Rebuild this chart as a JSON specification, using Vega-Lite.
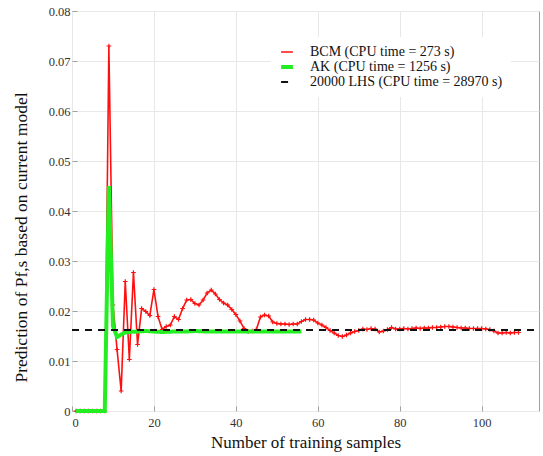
{
  "$schema": "https://vega.github.io/schema/vega-lite/v6.json",
  "autosize": {"type": "none"},
  "width": 467,
  "height": 400,
  "padding": {"left": 72, "top": 11, "right": 4, "bottom": 45},
  "background": "white",
  "config": {
    "font": "Liberation Serif",
    "view": {"stroke": "#a0a0a0", "strokeWidth": 1},
    "axis": {
      "labelFont": "Liberation Serif",
      "titleFont": "Liberation Serif",
      "labelColor": "#333333",
      "titleColor": "#111111",
      "titleFontWeight": "normal",
      "labelFontSize": 12.5,
      "titleFontSize": 17,
      "gridColor": "#e8e8e8",
      "gridWidth": 1,
      "domain": false,
      "tickColor": "#a0a0a0",
      "tickSize": -5,
      "labelPadding": 7
    },
    "legend": {
      "labelFont": "Liberation Serif",
      "labelFontSize": 14,
      "labelColor": "#111111",
      "labelLimit": 400
    }
  },
  "datasets": {
    "series": [
      {"series": "BCM (CPU time = 273 s)", "x": 1, "y": 0},
      {"series": "BCM (CPU time = 273 s)", "x": 2, "y": 0},
      {"series": "BCM (CPU time = 273 s)", "x": 3, "y": 0},
      {"series": "BCM (CPU time = 273 s)", "x": 4, "y": 0},
      {"series": "BCM (CPU time = 273 s)", "x": 5, "y": 0},
      {"series": "BCM (CPU time = 273 s)", "x": 6, "y": 0},
      {"series": "BCM (CPU time = 273 s)", "x": 7, "y": 0},
      {"series": "BCM (CPU time = 273 s)", "x": 8, "y": 0},
      {"series": "BCM (CPU time = 273 s)", "x": 9, "y": 0.073},
      {"series": "BCM (CPU time = 273 s)", "x": 10, "y": 0.0212},
      {"series": "BCM (CPU time = 273 s)", "x": 11, "y": 0.0123},
      {"series": "BCM (CPU time = 273 s)", "x": 12, "y": 0.004},
      {"series": "BCM (CPU time = 273 s)", "x": 13, "y": 0.0259},
      {"series": "BCM (CPU time = 273 s)", "x": 14, "y": 0.0103},
      {"series": "BCM (CPU time = 273 s)", "x": 15, "y": 0.0277},
      {"series": "BCM (CPU time = 273 s)", "x": 16, "y": 0.0133},
      {"series": "BCM (CPU time = 273 s)", "x": 17, "y": 0.0205},
      {"series": "BCM (CPU time = 273 s)", "x": 18, "y": 0.0199},
      {"series": "BCM (CPU time = 273 s)", "x": 19, "y": 0.0191},
      {"series": "BCM (CPU time = 273 s)", "x": 20, "y": 0.0243},
      {"series": "BCM (CPU time = 273 s)", "x": 21, "y": 0.0189},
      {"series": "BCM (CPU time = 273 s)", "x": 22, "y": 0.0163},
      {"series": "BCM (CPU time = 273 s)", "x": 23, "y": 0.0169},
      {"series": "BCM (CPU time = 273 s)", "x": 24, "y": 0.0172},
      {"series": "BCM (CPU time = 273 s)", "x": 25, "y": 0.0189},
      {"series": "BCM (CPU time = 273 s)", "x": 26, "y": 0.0183},
      {"series": "BCM (CPU time = 273 s)", "x": 27, "y": 0.0205},
      {"series": "BCM (CPU time = 273 s)", "x": 28, "y": 0.0222},
      {"series": "BCM (CPU time = 273 s)", "x": 29, "y": 0.0223},
      {"series": "BCM (CPU time = 273 s)", "x": 30, "y": 0.0215},
      {"series": "BCM (CPU time = 273 s)", "x": 31, "y": 0.0212},
      {"series": "BCM (CPU time = 273 s)", "x": 32, "y": 0.0222},
      {"series": "BCM (CPU time = 273 s)", "x": 33, "y": 0.0236},
      {"series": "BCM (CPU time = 273 s)", "x": 34, "y": 0.0242},
      {"series": "BCM (CPU time = 273 s)", "x": 35, "y": 0.0234},
      {"series": "BCM (CPU time = 273 s)", "x": 36, "y": 0.0223},
      {"series": "BCM (CPU time = 273 s)", "x": 37, "y": 0.0216},
      {"series": "BCM (CPU time = 273 s)", "x": 38, "y": 0.0212},
      {"series": "BCM (CPU time = 273 s)", "x": 39, "y": 0.0203},
      {"series": "BCM (CPU time = 273 s)", "x": 40, "y": 0.0193},
      {"series": "BCM (CPU time = 273 s)", "x": 41, "y": 0.018},
      {"series": "BCM (CPU time = 273 s)", "x": 42, "y": 0.0165},
      {"series": "BCM (CPU time = 273 s)", "x": 43, "y": 0.0159},
      {"series": "BCM (CPU time = 273 s)", "x": 44, "y": 0.016},
      {"series": "BCM (CPU time = 273 s)", "x": 45, "y": 0.0163},
      {"series": "BCM (CPU time = 273 s)", "x": 46, "y": 0.0188},
      {"series": "BCM (CPU time = 273 s)", "x": 47, "y": 0.0192},
      {"series": "BCM (CPU time = 273 s)", "x": 48, "y": 0.019},
      {"series": "BCM (CPU time = 273 s)", "x": 49, "y": 0.0178},
      {"series": "BCM (CPU time = 273 s)", "x": 50, "y": 0.0175},
      {"series": "BCM (CPU time = 273 s)", "x": 51, "y": 0.0174},
      {"series": "BCM (CPU time = 273 s)", "x": 52, "y": 0.0174},
      {"series": "BCM (CPU time = 273 s)", "x": 53, "y": 0.0173},
      {"series": "BCM (CPU time = 273 s)", "x": 54, "y": 0.0174},
      {"series": "BCM (CPU time = 273 s)", "x": 55, "y": 0.0174},
      {"series": "BCM (CPU time = 273 s)", "x": 56, "y": 0.0179},
      {"series": "BCM (CPU time = 273 s)", "x": 57, "y": 0.0183},
      {"series": "BCM (CPU time = 273 s)", "x": 58, "y": 0.0183},
      {"series": "BCM (CPU time = 273 s)", "x": 59, "y": 0.0182},
      {"series": "BCM (CPU time = 273 s)", "x": 60, "y": 0.0176},
      {"series": "BCM (CPU time = 273 s)", "x": 61, "y": 0.0172},
      {"series": "BCM (CPU time = 273 s)", "x": 62, "y": 0.0167},
      {"series": "BCM (CPU time = 273 s)", "x": 63, "y": 0.0161},
      {"series": "BCM (CPU time = 273 s)", "x": 64, "y": 0.0156},
      {"series": "BCM (CPU time = 273 s)", "x": 65, "y": 0.0151},
      {"series": "BCM (CPU time = 273 s)", "x": 66, "y": 0.0149},
      {"series": "BCM (CPU time = 273 s)", "x": 67, "y": 0.0152},
      {"series": "BCM (CPU time = 273 s)", "x": 68, "y": 0.0156},
      {"series": "BCM (CPU time = 273 s)", "x": 69, "y": 0.0159},
      {"series": "BCM (CPU time = 273 s)", "x": 70, "y": 0.0161},
      {"series": "BCM (CPU time = 273 s)", "x": 71, "y": 0.0164},
      {"series": "BCM (CPU time = 273 s)", "x": 72, "y": 0.0163},
      {"series": "BCM (CPU time = 273 s)", "x": 73, "y": 0.0165},
      {"series": "BCM (CPU time = 273 s)", "x": 74, "y": 0.0164},
      {"series": "BCM (CPU time = 273 s)", "x": 75, "y": 0.0158},
      {"series": "BCM (CPU time = 273 s)", "x": 76, "y": 0.016},
      {"series": "BCM (CPU time = 273 s)", "x": 77, "y": 0.0163},
      {"series": "BCM (CPU time = 273 s)", "x": 78, "y": 0.0167},
      {"series": "BCM (CPU time = 273 s)", "x": 79, "y": 0.0164},
      {"series": "BCM (CPU time = 273 s)", "x": 80, "y": 0.0164},
      {"series": "BCM (CPU time = 273 s)", "x": 81, "y": 0.0165},
      {"series": "BCM (CPU time = 273 s)", "x": 82, "y": 0.0164},
      {"series": "BCM (CPU time = 273 s)", "x": 83, "y": 0.0165},
      {"series": "BCM (CPU time = 273 s)", "x": 84, "y": 0.0166},
      {"series": "BCM (CPU time = 273 s)", "x": 85, "y": 0.0165},
      {"series": "BCM (CPU time = 273 s)", "x": 86, "y": 0.0166},
      {"series": "BCM (CPU time = 273 s)", "x": 87, "y": 0.0166},
      {"series": "BCM (CPU time = 273 s)", "x": 88, "y": 0.0167},
      {"series": "BCM (CPU time = 273 s)", "x": 89, "y": 0.0167},
      {"series": "BCM (CPU time = 273 s)", "x": 90, "y": 0.0168},
      {"series": "BCM (CPU time = 273 s)", "x": 91, "y": 0.0169},
      {"series": "BCM (CPU time = 273 s)", "x": 92, "y": 0.0169},
      {"series": "BCM (CPU time = 273 s)", "x": 93, "y": 0.0168},
      {"series": "BCM (CPU time = 273 s)", "x": 94, "y": 0.0167},
      {"series": "BCM (CPU time = 273 s)", "x": 95, "y": 0.0166},
      {"series": "BCM (CPU time = 273 s)", "x": 96, "y": 0.0166},
      {"series": "BCM (CPU time = 273 s)", "x": 97, "y": 0.0165},
      {"series": "BCM (CPU time = 273 s)", "x": 98, "y": 0.0165},
      {"series": "BCM (CPU time = 273 s)", "x": 99, "y": 0.0165},
      {"series": "BCM (CPU time = 273 s)", "x": 100, "y": 0.0165},
      {"series": "BCM (CPU time = 273 s)", "x": 101, "y": 0.0164},
      {"series": "BCM (CPU time = 273 s)", "x": 102, "y": 0.0163},
      {"series": "BCM (CPU time = 273 s)", "x": 103, "y": 0.016},
      {"series": "BCM (CPU time = 273 s)", "x": 104, "y": 0.0156},
      {"series": "BCM (CPU time = 273 s)", "x": 105, "y": 0.0156},
      {"series": "BCM (CPU time = 273 s)", "x": 106, "y": 0.0157},
      {"series": "BCM (CPU time = 273 s)", "x": 107, "y": 0.0156},
      {"series": "BCM (CPU time = 273 s)", "x": 108, "y": 0.0157},
      {"series": "BCM (CPU time = 273 s)", "x": 109, "y": 0.0157},
      {"series": "AK (CPU time = 1256 s)", "x": 1, "y": 0},
      {"series": "AK (CPU time = 1256 s)", "x": 2, "y": 0},
      {"series": "AK (CPU time = 1256 s)", "x": 3, "y": 0},
      {"series": "AK (CPU time = 1256 s)", "x": 4, "y": 0},
      {"series": "AK (CPU time = 1256 s)", "x": 5, "y": 0},
      {"series": "AK (CPU time = 1256 s)", "x": 6, "y": 0},
      {"series": "AK (CPU time = 1256 s)", "x": 7, "y": 0},
      {"series": "AK (CPU time = 1256 s)", "x": 8, "y": 0},
      {"series": "AK (CPU time = 1256 s)", "x": 9, "y": 0.045},
      {"series": "AK (CPU time = 1256 s)", "x": 10, "y": 0.017},
      {"series": "AK (CPU time = 1256 s)", "x": 11, "y": 0.0148},
      {"series": "AK (CPU time = 1256 s)", "x": 12, "y": 0.0153},
      {"series": "AK (CPU time = 1256 s)", "x": 13, "y": 0.0157},
      {"series": "AK (CPU time = 1256 s)", "x": 14, "y": 0.0158},
      {"series": "AK (CPU time = 1256 s)", "x": 16, "y": 0.0159},
      {"series": "AK (CPU time = 1256 s)", "x": 18, "y": 0.016},
      {"series": "AK (CPU time = 1256 s)", "x": 20, "y": 0.0159},
      {"series": "AK (CPU time = 1256 s)", "x": 22, "y": 0.0158},
      {"series": "AK (CPU time = 1256 s)", "x": 25, "y": 0.0159},
      {"series": "AK (CPU time = 1256 s)", "x": 28, "y": 0.0159},
      {"series": "AK (CPU time = 1256 s)", "x": 30, "y": 0.016},
      {"series": "AK (CPU time = 1256 s)", "x": 33, "y": 0.0159},
      {"series": "AK (CPU time = 1256 s)", "x": 36, "y": 0.0159},
      {"series": "AK (CPU time = 1256 s)", "x": 40, "y": 0.0159},
      {"series": "AK (CPU time = 1256 s)", "x": 44, "y": 0.0159},
      {"series": "AK (CPU time = 1256 s)", "x": 48, "y": 0.0159},
      {"series": "AK (CPU time = 1256 s)", "x": 52, "y": 0.0159},
      {"series": "AK (CPU time = 1256 s)", "x": 56, "y": 0.0159},
      {"series": "20000 LHS (CPU time = 28970 s)", "x": 0, "y": 0.0162},
      {"series": "20000 LHS (CPU time = 28970 s)", "x": 114, "y": 0.0162}
    ]
  },
  "data": {"name": "series"},
  "encoding": {
    "x": {
      "field": "x",
      "type": "quantitative",
      "scale": {"domain": [0, 114], "nice": false},
      "axis": {"values": [0, 20, 40, 60, 80, 100], "title": "Number of training samples", "titlePadding": 6, "labelPadding": 10}
    },
    "y": {
      "field": "y",
      "type": "quantitative",
      "scale": {"domain": [0, 0.08], "nice": false},
      "axis": {"values": [0, 0.01, 0.02, 0.03, 0.04, 0.05, 0.06, 0.07, 0.08], "format": ".2~f", "title": "Prediction of Pf,s based on current model", "titleFontSize": 17.5, "titlePadding": 18, "titleY": 226}
    },
    "color": {
      "field": "series",
      "type": "nominal",
      "scale": {
        "domain": ["BCM (CPU time = 273 s)", "AK (CPU time = 1256 s)", "20000 LHS (CPU time = 28970 s)"],
        "range": ["#ff1010", "#22ee22", "#111111"]
      },
      "legend": {
        "title": null,
        "orient": "none",
        "legendX": 199,
        "legendY": 26,
        "symbolType": "stroke",
        "symbolSize": 140,
        "fillColor": "white",
        "padding": 8,
        "rowPadding": 0,
        "labelOffset": 15
      }
    },
    "strokeDash": {
      "field": "series",
      "type": "nominal",
      "scale": {
        "domain": ["BCM (CPU time = 273 s)", "AK (CPU time = 1256 s)", "20000 LHS (CPU time = 28970 s)"],
        "range": [[1, 0], [1, 0], [7, 6]]
      },
      "legend": {"title": null}
    },
    "strokeWidth": {
      "field": "series",
      "type": "nominal",
      "scale": {
        "type": "ordinal",
        "domain": ["BCM (CPU time = 273 s)", "AK (CPU time = 1256 s)", "20000 LHS (CPU time = 28970 s)"],
        "range": [1.6, 4, 2]
      },
      "legend": {"title": null}
    }
  },
  "layer": [
    {
      "transform": [{"filter": "datum.series === 'BCM (CPU time = 273 s)'"}],
      "mark": {"type": "line"}
    },
    {
      "transform": [{"filter": "datum.series === 'BCM (CPU time = 273 s)'"}],
      "mark": {"type": "point", "shape": "M-1,0L1,0M0,-1L0,1", "filled": false, "size": 22, "strokeWidth": 1.2, "color": "#ff1010", "opacity": 1},
      "encoding": {"color": {"value": "#ff1010"}, "strokeDash": {"value": [1, 0]}, "strokeWidth": {"value": 1.2}}
    },
    {
      "transform": [{"filter": "datum.series === 'AK (CPU time = 1256 s)'"}],
      "mark": {"type": "line"}
    },
    {
      "transform": [{"filter": "datum.series === '20000 LHS (CPU time = 28970 s)'"}],
      "mark": {"type": "line"}
    }
  ]
}
